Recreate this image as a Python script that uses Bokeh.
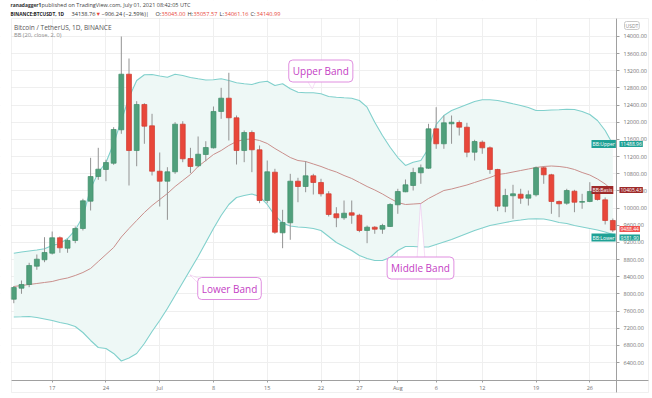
from bokeh.plotting import figure
from bokeh.models import (Range1d, FixedTicker, Label, PolyAnnotation, BoxAnnotation,
                          PrintfTickFormatter, ColumnDataSource)
from bokeh.embed import file_html
from bokeh.resources import INLINE

# ---------------- data (daily candles, index 0 = Jun 12) ----------------
days = list(range(79))
opens = [7876, 8133, 8219, 8646, 8795, 8949, 9308, 9065, 9245, 9524,
         10161, 10736, 10900, 11046, 11825, 13121, 11342, 12415, 11918, 10860,
         10627, 10846, 11956, 11156, 10986, 11249, 11405, 12252, 12562, 12105,
         11342, 11762, 11359, 10177, 10837, 9424, 9657, 10627, 10503, 10753,
         10597, 10333, 9867, 9774, 9890, 9834, 9478, 9555, 9508, 9571,
         10077, 10380, 10527, 10823, 10930, 11848, 11499, 11965, 11995, 11886,
         11303, 11536, 11405, 10900, 10044, 10287, 10324, 10231, 10310, 10939,
         10776, 10154, 10114, 10394, 10137, 10154, 10387, 10193, 9711]
closes = [8149, 8219, 8662, 8809, 8965, 9308, 9074, 9245, 9524, 10170,
          10736, 10907, 11063, 11832, 13121, 11342, 12415, 11909, 10860, 10627,
          10846, 11956, 11149, 10970, 11256, 11412, 12252, 12562, 12105, 11342,
          11762, 11359, 10177, 10846, 9438, 9664, 10627, 10503, 10753, 10597,
          10333, 9851, 9774, 9881, 9834, 9478, 9555, 9508, 9594, 10084,
          10387, 10543, 10830, 10939, 11848, 11499, 11988, 12002, 11886, 11303,
          11552, 11405, 10900, 10044, 10294, 10333, 10231, 10310, 10939, 10776,
          10154, 10100, 10410, 10137, 10154, 10387, 10200, 9711, 9488]
highs = [8184, 8312, 8725, 8918, 9322, 9454, 9338, 9284, 9571, 10217,
         11172, 11405, 11126, 11886, 14000, 13487, 12492, 12445, 12198, 11296,
         10953, 12002, 12025, 11405, 11669, 11559, 12368, 12804, 13154, 12158,
         11809, 11809, 11459, 11109, 10916, 9960, 10799, 10706, 11093, 10799,
         10683, 10394, 10021, 10177, 10177, 9867, 9594, 9578, 9634, 10114,
         10450, 10667, 10939, 11016, 11965, 12352, 12158, 12158, 12042, 11988,
         11592, 11576, 11436, 10916, 10450, 10543, 10450, 10410, 10970, 10970,
         10799, 10177, 10450, 10426, 10333, 10604, 10473, 10247, 9757]
lows = [7783, 8002, 8156, 8562, 8739, 8918, 8958, 8958, 9182, 9478,
        9944, 10660, 10627, 11009, 11732, 10527, 10976, 11499, 10760, 10037,
        9727, 10799, 11070, 10813, 10953, 11093, 11389, 12081, 11576, 11016,
        11070, 10837, 10114, 10114, 9401, 9065, 9261, 10137, 10370, 10317,
        10270, 9804, 9555, 9727, 9634, 9438, 9182, 9401, 9401, 9560,
        9867, 10370, 10410, 10566, 10916, 11382, 11382, 11499, 11692, 11186,
        11109, 11266, 10799, 9928, 9904, 9750, 10100, 10060, 10270, 10566,
        9867, 9788, 10077, 9904, 9984, 10137, 10177, 9618, 9443]

bb_upper = [8949, 8977, 9000, 9023, 9051, 9128, 9175, 9291, 9489, 9804,
            10457, 10830, 11063, 11506, 12042, 12578, 12974, 13107, 13114, 13079,
            13051, 13121, 13091, 13044, 13014, 12986, 12991, 13014, 12974, 12921,
            12897, 12881, 12935, 12958, 12858, 12897, 12781, 12702, 12688, 12688,
            12664, 12601, 12585, 12571, 12562, 12508, 12352, 12002, 11692, 11419,
            11179, 10993, 11070, 11109, 11389, 11949, 12158, 12275, 12345, 12415,
            12485, 12524, 12524, 12508, 12473, 12431, 12391, 12345, 12275, 12275,
            12287, 12291, 12305, 12298, 12252, 12182, 12042, 11809, 11489]
bb_basis = [8172, 8196, 8219, 8242, 8266, 8289, 8336, 8371, 8429, 8499,
            8592, 8755, 8918, 9081, 9326, 9524, 9711, 9897, 10060, 10200,
            10340, 10503, 10643, 10783, 10970, 11109, 11249, 11342, 11459, 11552,
            11599, 11611, 11576, 11506, 11389, 11284, 11179, 11109, 11086, 11028,
            10970, 10900, 10841, 10760, 10690, 10597, 10503, 10422, 10329, 10224,
            10130, 10084, 10095, 10107, 10224, 10317, 10410, 10445, 10492, 10538,
            10597, 10655, 10713, 10783, 10806, 10841, 10876, 10911, 10946, 10970,
            10981, 10970, 10946, 10900, 10830, 10771, 10678, 10562, 10405]
bb_lower = [7461, 7466, 7473, 7450, 7415, 7380, 7333, 7298, 7240, 7100,
            6914, 6750, 6727, 6611, 6436, 6506, 6611, 6844, 7123, 7380,
            7660, 7963, 8266, 8569, 8872, 9198, 9524, 9827, 10084, 10247,
            10294, 10329, 10270, 10084, 9827, 9652, 9583, 9559, 9548, 9524,
            9478, 9338, 9198, 9105, 9012, 8895, 8825, 8778, 8778, 8848,
            9012, 9105, 9105, 9093, 9093, 9151, 9210, 9268, 9338, 9408,
            9478, 9536, 9594, 9629, 9664, 9699, 9722, 9746, 9750, 9746,
            9711, 9664, 9641, 9594, 9559, 9524, 9489, 9443, 9382]

tick_days = [5, 12, 19, 26, 33, 40, 45, 50, 55, 61, 68, 75]
tick_labels = ["17", "24", "Jul", "8", "15", "22", "27", "Aug", "6", "12", "19", "26"]
price_ticks = list(range(6400, 14001, 400))

last_upper, last_basis, last_lower, last_close = "11488.96", "10405.43", "9381.90", "9488.44"

# ---------------- styling ----------------
GREEN = "#50a07c"
GREEN_L = "#3f8c69"
RED = "#e8473a"
RED_L = "#cf3a2e"
TEAL = "#1fa195"
BAND = "#80d0cc"
BASIS = "#c98f8c"
MAG = "#c440c4"
MAG_B = "#e08fe0"
FONT = "Open Sans"
W, H = 652, 398


def X(px):  # pixel column -> data x (placement of annotations only)
    return (px - 13.3) / 7.68


def Y(py):  # pixel row -> price (placement of annotations only)
    return 14839.0 - 23.31 * py


p = figure(frame_width=W, frame_height=H,
           x_range=Range1d(X(0), X(W)), y_range=Range1d(Y(H), Y(0)),
           y_axis_location="right",
           output_backend="svg", toolbar_location=None,
           min_border_left=0, min_border_top=0, min_border_right=0, min_border_bottom=0)
p.background_fill_color = "white"
p.border_fill_color = "white"
p.outline_line_color = None

p.xgrid.grid_line_color = "#efefef"
p.ygrid.grid_line_color = "#efefef"

# time axis (drawn at the bottom edge of the chart pane)
p.xaxis.fixed_location = Y(380)
p.xaxis.bounds = (X(11), X(648))
p.xaxis.ticker = FixedTicker(ticks=tick_days)
p.xaxis.major_label_overrides = {d: s for d, s in zip(tick_days, tick_labels)}
p.xaxis.axis_line_color = "#a0a0a0"
p.xaxis.major_tick_line_color = "#a0a0a0"
p.xaxis.major_tick_out = 2
p.xaxis.major_tick_in = 0
p.xaxis.minor_tick_line_color = None
p.xaxis.major_label_text_font_size = "5.5px"
p.xaxis.major_label_text_color = "#707070"
p.xaxis.major_label_text_font = FONT
p.xaxis.major_label_standoff = 1

# price axis (drawn at the right edge of the chart pane)
p.yaxis.fixed_location = X(616)
p.yaxis.bounds = (Y(392), Y(18))
p.yaxis.ticker = FixedTicker(ticks=price_ticks)
p.yaxis.formatter = PrintfTickFormatter(format="%.2f")
p.yaxis.axis_line_color = "#a0a0a0"
p.yaxis.major_tick_line_color = "#a0a0a0"
p.yaxis.major_tick_out = 3
p.yaxis.major_tick_in = 0
p.yaxis.minor_tick_line_color = None
p.yaxis.major_label_text_font_size = "5.5px"
p.yaxis.major_label_text_color = "#707070"
p.yaxis.major_label_text_font = FONT
p.yaxis.major_label_standoff = 4

# keep grid lines inside the chart pane
for kw in (dict(bottom=Y(18)), dict(top=Y(380)), dict(left=X(616)), dict(right=X(11))):
    p.add_layout(BoxAnnotation(fill_color="white", fill_alpha=1, line_color=None,
                               level="underlay", **kw))

# Bollinger band fill & lines
p.varea(x=days, y1=bb_lower, y2=bb_upper, fill_color="#eef8f6")
p.line(days, bb_upper, line_color=BAND, line_width=1.1)
p.line(days, bb_lower, line_color=BAND, line_width=1.1)
p.line(days, bb_basis, line_color=BASIS, line_width=1)

# candles
is_up = [c >= o for o, c in zip(opens, closes)]
src = ColumnDataSource(dict(
    x=days, h=highs, l=lows,
    top=[max(o, c) for o, c in zip(opens, closes)],
    bot=[min(o, c) for o, c in zip(opens, closes)],
    fill=[GREEN if u else RED for u in is_up],
    edge=[GREEN_L if u else RED_L for u in is_up],
))
p.segment(x0="x", y0="h", x1="x", y1="l", source=src, line_color="#939393", line_width=1)
p.vbar(x="x", width=0.64, top="top", bottom="bot", source=src,
       fill_color="fill", line_color="edge", line_width=0.7)

# pane border
p.add_layout(BoxAnnotation(left=X(11), right=X(648), top=Y(18), bottom=Y(392),
                           fill_alpha=0, line_color="#cccccc", line_width=1))


# ---------------- callouts ----------------
def callout(text, cx, cy, tail):
    p.add_layout(PolyAnnotation(xs=[X(a) for a, b in tail], ys=[Y(b) for a, b in tail],
                                fill_color="white", fill_alpha=1,
                                line_color=MAG_B, line_width=1))
    p.add_layout(Label(x=X(cx), y=Y(cy), text=text, text_align="center", text_baseline="middle",
                       text_font=FONT, text_font_size="10px", text_color=MAG,
                       background_fill_color="white", border_line_color=MAG_B, border_line_width=1,
                       padding=4, border_radius=4))


callout("Upper Band", 320.3, 70.5, [(306, 79), (311.7, 88.3), (316, 79)])
callout("Lower Band", 229, 288, [(198, 283), (189.3, 274.3), (204, 280)])
callout("Middle Band", 420, 267.5, [(416.5, 259), (420, 203), (424.5, 259)])


# ---------------- texts ----------------
def txt(text, px, py, size="6px", color="#555555", style="normal", **kw):
    p.add_layout(Label(x=X(px), y=Y(py), text=text, text_align="left", text_baseline="middle",
                       text_font=FONT, text_font_size=size, text_color=color,
                       text_font_style=style, **kw))


txt("Bitcoin / TetherUS, 1D, BINANCE", 13.5, 26.5, size="6.5px", color="#555555")
txt("BB (20, close, 2, 0)", 13.5, 34.5, size="5.7px", color="#8a8a8a")

# header
txt("ranadagger1", 10, 4.5, size="4.9px", color="#333333", style="bold")
txt("published on TradingView.com, July 01, 2021 08:42:05 UTC", 41, 4.5, size="5.5px", color="#444444")
txt("BINANCE:BTCUSDT, 1D", 10, 13, size="4.8px", color="#222222", style="bold")
txt("34138.76", 71, 13, size="5.6px", color="#333333")
txt("▼", 95, 13, size="5.6px", color=RED)
txt("−906.24 (−2.59%)|", 101, 13, size="5.6px", color="#333333")
txt("O:", 155, 13, size="5.6px", color="#333333")
txt("35045.00", 161, 13, size="5.6px", color=RED)
txt("H:", 187, 13, size="5.6px", color="#333333")
txt("35057.57", 193, 13, size="5.6px", color=RED)
txt("L:", 219, 13, size="5.6px", color="#333333")
txt("34061.16", 224, 13, size="5.6px", color=RED)
txt("C:", 250, 13, size="5.6px", color="#333333")
txt("34140.99", 256, 13, size="5.6px", color=RED)


# ---------------- price-scale tags ----------------
def tag(text, px, py, bg):
    p.add_layout(Label(x=X(px), y=Y(py), text=text, text_align="left", text_baseline="middle",
                       text_font=FONT, text_font_size="5px", text_color="white",
                       background_fill_color=bg, padding=1))


tag("BB:Upper", 591, 143.5, TEAL)
tag(last_upper, 619, 143.5, TEAL)
tag("BB:Basis", 591, 189.5, "#9e2a2a")
tag(last_basis, 619, 189.5, "#9e2a2a")
tag(last_close, 619, 228.5, "#ef5350")
tag("BB:Lower", 591, 237, TEAL)
tag(last_lower, 619, 237, TEAL)

p.add_layout(Label(x=X(624), y=Y(25), text="USDT", text_align="left", text_baseline="middle",
                   text_font=FONT, text_font_size="5px", text_color="#8a8a8a",
                   border_line_color="#c8c8c8", padding=1, border_radius=2))

open("out.html", "w").write(file_html(p, INLINE))
